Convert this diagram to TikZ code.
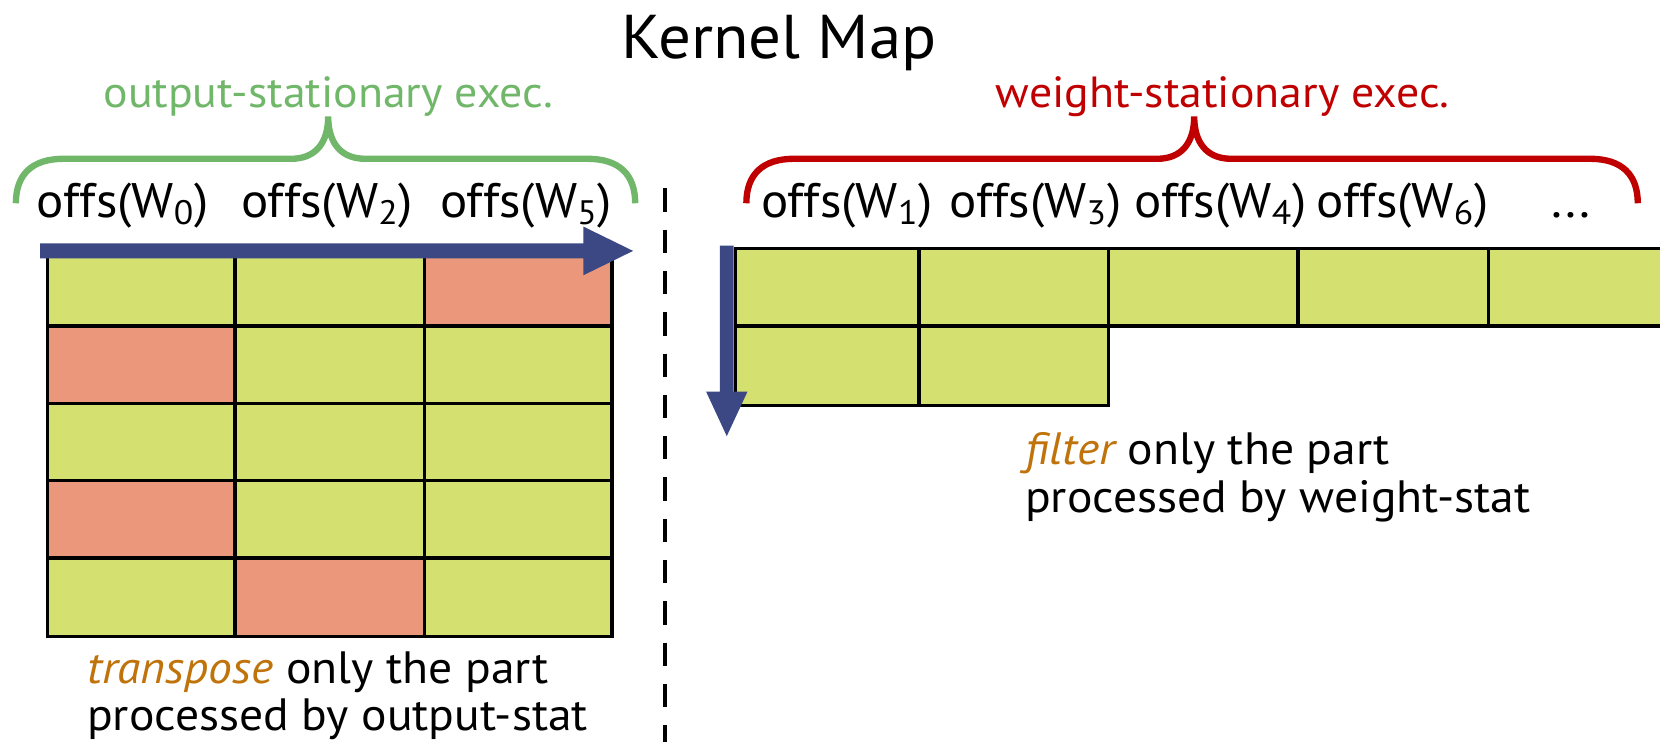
\documentclass[tikz,border=0pt]{standalone}
\usepackage{fontspec}
\setmainfont{PT Sans}[FakeStretch=1.05]
\usetikzlibrary{positioning, calc}
\definecolor{cellok}{RGB}{212,224,112}
\definecolor{cellbad}{RGB}{234,151,123}
\definecolor{osgreen}{RGB}{112,183,106}
\definecolor{wsred}{RGB}{192,0,0}
\definecolor{arrblue}{RGB}{59,72,131}
\definecolor{hlorange}{RGB}{191,115,10}
% one cell of the kernel map: x1, y1, x2, y2, fill
\newcommand{\kcell}[5]{
    \filldraw[fill=#5, draw=black, line width=1.6pt] (#1,#2) rectangle (#3,#4);
}
% curly brace over a group of offsets: left x, tip x, right x, colour
\newcommand{\kbrace}[4]{
    \draw[#4, line width=3pt] (#1,192) .. controls (#1,165) and (#1+15,150) .. (#1+45,150) -- (#2-35,150)
        .. controls (#2-12,150) and (#2,135) .. (#2,110) .. controls (#2,135) and (#2+12,150) .. (#2+35,150)
        -- (#3-45,150) .. controls (#3-15,150) and (#3,165) .. (#3,192);
}
\tikzset{
    offs/.style={anchor=base, font=\fontsize{22.9}{25}\selectfont},
    exec/.style={anchor=base, font=\fontsize{20.6}{23}\selectfont},
    note/.style={anchor=north west, align=left, font=\fontsize{21.4}{22.5}\selectfont, inner sep=0pt},
}

\begin{document}
\begin{tikzpicture}[x=0.5pt, y=-0.5pt]
    \useasboundingbox (0,0) rectangle (1568,700);
    \clip (0,0) rectangle (1568,700);
    \node[anchor=base, font=\fontsize{29.2}{31}\selectfont] (title) at (736,55) {Kernel Map};

    % output-stationary side
    \node[exec, text=osgreen] (osexec) at (310,102) {output-stationary exec.};
    \kbrace{15}{310}{600}{osgreen}
    \node[offs] (w0) at (116,205) {offs(W\textsubscript{0})};
    \node[offs] (w2) at (309,205) {offs(W\textsubscript{2})};
    \node[offs] (w5) at (497,205) {offs(W\textsubscript{5})};
    \kcell{45}{235}{222}{308}{cellok}
    \kcell{222}{235}{401}{308}{cellok}
    \kcell{401}{235}{578}{308}{cellbad}
    \kcell{45}{308}{222}{381}{cellbad}
    \kcell{222}{308}{401}{381}{cellok}
    \kcell{401}{308}{578}{381}{cellok}
    \kcell{45}{381}{222}{454}{cellok}
    \kcell{222}{381}{401}{454}{cellok}
    \kcell{401}{381}{578}{454}{cellok}
    \kcell{45}{454}{222}{527}{cellbad}
    \kcell{222}{454}{401}{527}{cellok}
    \kcell{401}{454}{578}{527}{cellok}
    \kcell{45}{527}{222}{601}{cellok}
    \kcell{222}{527}{401}{601}{cellbad}
    \kcell{401}{527}{578}{601}{cellok}
    \fill[arrblue] (38,230) -- (551,230) -- (551,214) -- (598,237) -- (551,260) -- (551,244) -- (38,244) -- cycle;
    \node[note] (osnote) at (82,615) {\textcolor{hlorange}{\itshape transpose} only the part\\processed by output-stat};

    \draw[line width=2pt, dash pattern=on 11pt off 8.5pt] (628,178) -- (628,705);

    % weight-stationary side
    \node[exec, text=wsred] (wsexec) at (1155,102) {weight-stationary exec.};
    \kbrace{705}{1128}{1547}{wsred}
    \node[offs] (w1) at (800,205) {offs(W\textsubscript{1})};
    \node[offs] (w3) at (978,205) {offs(W\textsubscript{3})};
    \node[offs] (w4) at (1153,205) {offs(W\textsubscript{4})};
    \node[offs] (w6) at (1325,205) {offs(W\textsubscript{6})};
    \node[offs] (wdots) at (1484,205) {...};
    \kcell{695}{235}{868}{308}{cellok}
    \kcell{868}{235}{1047}{308}{cellok}
    \kcell{1047}{235}{1226}{308}{cellok}
    \kcell{1226}{235}{1406}{308}{cellok}
    \kcell{1406}{235}{1600}{308}{cellok}
    \kcell{695}{308}{868}{383}{cellok}
    \kcell{868}{308}{1047}{383}{cellok}
    \fill[arrblue] (680,232) -- (693,232) -- (693,370) -- (706,370) -- (686.5,412) -- (667,370) -- (680,370) -- cycle;
    \node[note] (wsnote) at (968,408) {\textcolor{hlorange}{\itshape filter} only the part\\processed by weight-stat};
\end{tikzpicture}
\end{document}
